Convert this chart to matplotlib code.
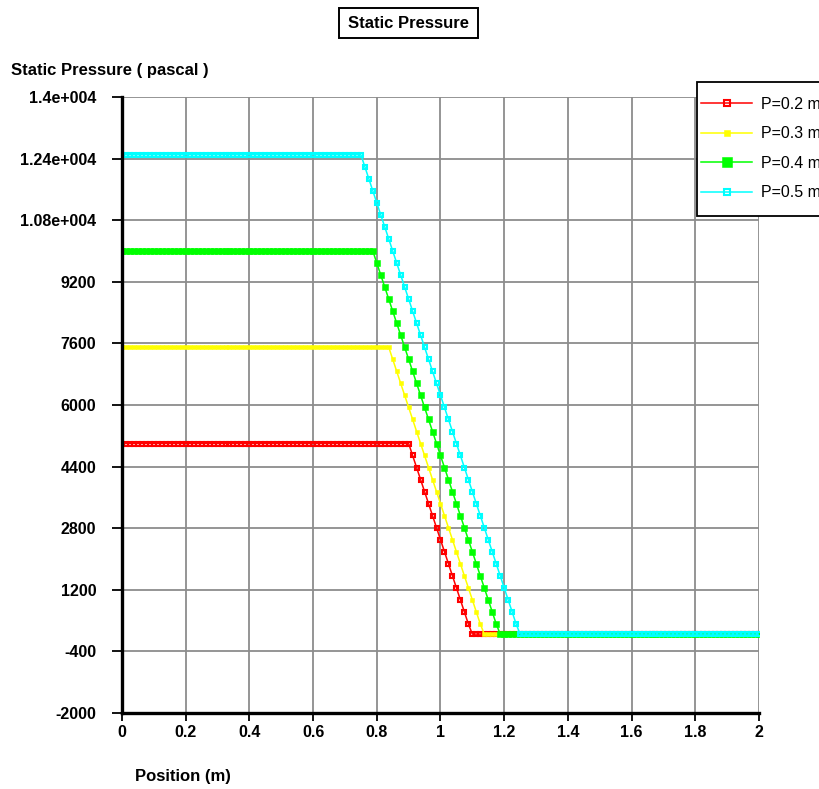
import numpy as np
import matplotlib
matplotlib.use("Agg")
import matplotlib.pyplot as plt
from matplotlib.patches import Rectangle

plt.rcParams['font.family'] = ['Liberation Sans', 'DejaVu Sans']

# ---------------- data ----------------
position = np.round(np.arange(161) * 0.0125, 4)   # mesh positions (m)

p02 = [5000] * 73 + [4690, 4375, 4060, 3750, 3440, 3125, 2810, 2500, 2190, 1875,
                     1560, 1250, 940, 625, 310] + [50] * 73
p03 = [7500] * 68 + [7190, 6875, 6560, 6250, 5940, 5625, 5310, 5000, 4690, 4375,
                     4060, 3750, 3440, 3125, 2810, 2500, 2190, 1875, 1560, 1250,
                     940, 625, 310] + [50] * 70
p04 = [10000] * 64 + [9690, 9375, 9060, 8750, 8440, 8125, 7810, 7500, 7190, 6875,
                      6560, 6250, 5940, 5625, 5310, 5000, 4690, 4375, 4060, 3750,
                      3440, 3125, 2810, 2500, 2190, 1875, 1560, 1250, 940, 625,
                      310] + [50] * 66
p05 = [12500] * 61 + [12190, 11875, 11560, 11250, 10940, 10625, 10310, 10000, 9690,
                      9375, 9060, 8750, 8440, 8125, 7810, 7500, 7190, 6875, 6560,
                      6250, 5940, 5625, 5310, 5000, 4690, 4375, 4060, 3750, 3440,
                      3125, 2810, 2500, 2190, 1875, 1560, 1250, 940, 625, 310] + [50] * 61

series_labels = ["P=0.2 m", "P=0.3 m", "P=0.4 m", "P=0.5 m"]

x_ticks = [0, 0.2, 0.4, 0.6, 0.8, 1.0, 1.2, 1.4, 1.6, 1.8, 2.0]
x_tick_labels = ["0", "0.2", "0.4", "0.6", "0.8", "1", "1.2", "1.4", "1.6", "1.8", "2"]
y_ticks = [-2000, -400, 1200, 2800, 4400, 6000, 7600, 9200, 10800, 12400, 14000]
y_tick_labels = ["-2000", "-400", "1200", "2800", "4400", "6000", "7600", "9200",
                 "1.08e+004", "1.24e+004", "1.4e+004"]

# ---------------- figure ----------------
W, H = 820, 789
fig = plt.figure(figsize=(W / 100, H / 100), dpi=100)
ax = fig.add_axes([122 / W, 1 - 713 / H, (759 - 122) / W, (713 - 97) / H])

styles = [
    dict(color='#ff0000', marker='s', markersize=3.5, markerfacecolor='none',
         markeredgecolor='#ff0000', markeredgewidth=1.5),
    dict(color='#ffff00', marker='s', markersize=3.0, markerfacecolor='#ffff00',
         markeredgecolor='#ffff00', markeredgewidth=0.4),
    dict(color='#00ff00', marker='s', markersize=5.0, markerfacecolor='#00ff00',
         markeredgecolor='#00ff00', markeredgewidth=0.4),
    dict(color='#00ffff', marker='s', markersize=3.5, markerfacecolor='none',
         markeredgecolor='#00ffff', markeredgewidth=1.5),
]

handles = []
for vals, lab, st in zip([p02, p03, p04, p05], series_labels, styles):
    h, = ax.plot(position, vals, lw=1.1, label=lab, zorder=3, **st)
    handles.append(h)

ax.set_xlim(0, 2)
ax.set_ylim(-2000, 14000)
ax.set_xticks(x_ticks)
ax.set_xticklabels(x_tick_labels)
ax.set_yticks(y_ticks)
ax.set_yticklabels(y_tick_labels)

ax.grid(True, color='#8c8c8c', lw=1.3, zorder=0)
for s in ['top', 'right']:
    ax.spines[s].set_visible(False)
for s in ['left', 'bottom']:
    ax.spines[s].set_linewidth(2.4)
    ax.spines[s].set_color('black')
    ax.spines[s].set_zorder(4)

ax.tick_params(axis='both', direction='out', width=1.3, color='black', labelsize=11.5)
ax.tick_params(axis='y', length=7.5, pad=11)
ax.tick_params(axis='x', length=5.5, pad=3)
for lbl in ax.get_xticklabels() + ax.get_yticklabels():
    lbl.set_fontweight('bold')

# Title in a box
fig.patches.append(Rectangle((339 / W, 1 - 38 / H), (478 - 339) / W, 30 / H,
                             transform=fig.transFigure, facecolor='white',
                             edgecolor='black', lw=1.4))
fig.text(409 / W, 1 - 23 / H, "Static Pressure", ha='center', va='center',
         fontsize=12, fontweight='bold')

# axis labels
fig.text(11 / W, 1 - 70 / H, "Static Pressure ( pascal )", ha='left', va='center',
         fontsize=12, fontweight='bold')
fig.text(135 / W, 1 - 777 / H, "Position (m)", ha='left', va='center',
         fontsize=12, fontweight='bold')

# legend
fig.patches.append(Rectangle((697 / W, 1 - 216 / H), 140 / W, (216 - 82) / H,
                             transform=fig.transFigure, facecolor='white',
                             edgecolor='black', lw=1.3, zorder=5))
leg = fig.legend(handles=handles, labels=series_labels, loc='upper left',
                 bbox_to_anchor=(701 / W, 1 - 97 / H), frameon=False,
                 fontsize=11.5, handlelength=3.2, labelspacing=0.9, borderpad=0,
                 handletextpad=0.55, borderaxespad=0, markerscale=1.3)
leg.set_zorder(6)

fig.savefig("out.png", dpi=100)
